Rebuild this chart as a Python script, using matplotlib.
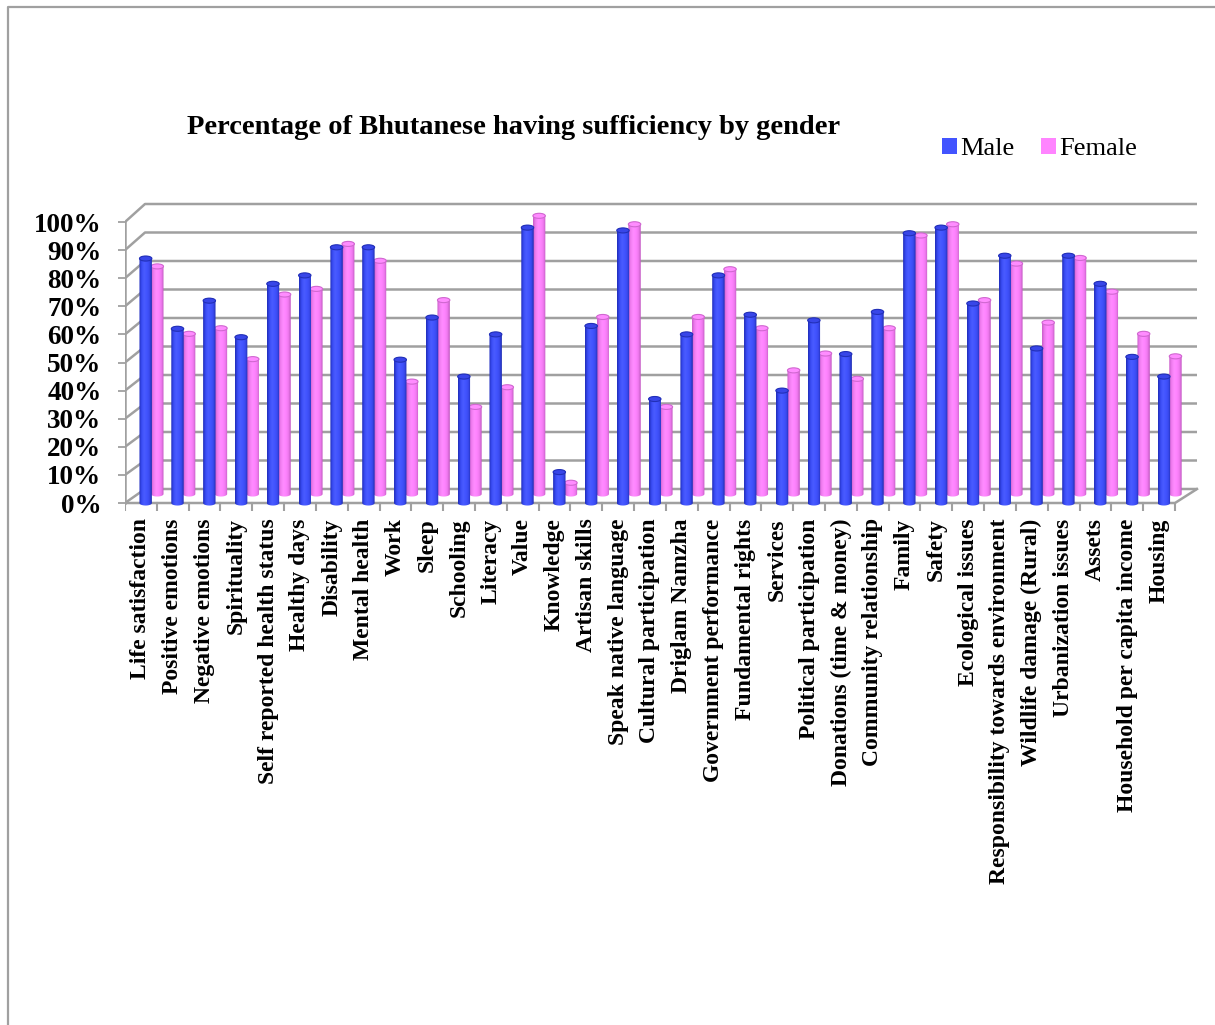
import numpy as np
import matplotlib
matplotlib.use("Agg")
import matplotlib.pyplot as plt
from matplotlib.colors import LinearSegmentedColormap
from matplotlib.patches import Polygon, Ellipse, Patch
from matplotlib.lines import Line2D

plt.rcParams['font.family'] = ['Liberation Serif', 'DejaVu Serif']

categories = ["Life satisfaction", "Positive emotions", "Negative emotions", "Spirituality",
              "Self reported health status", "Healthy days", "Disability", "Mental health",
              "Work", "Sleep", "Schooling", "Literacy", "Value", "Knowledge", "Artisan skills",
              "Speak native language", "Cultural participation", "Driglam Namzha",
              "Government performance", "Fundamental rights", "Services",
              "Political participation", "Donations (time & money)", "Community relationship",
              "Family", "Safety", "Ecological issues", "Responsibility towards environment",
              "Wildlife damage (Rural)", "Urbanization issues", "Assets",
              "Household per capita income", "Housing"]
male = [87, 62, 72, 59, 78, 81, 91, 91, 51, 66, 45, 60, 98, 11, 63, 97, 37, 60, 81, 67, 40,
        65, 53, 68, 96, 98, 71, 88, 55, 88, 78, 52, 45]
female = [81, 57, 59, 48, 71, 73, 89, 83, 40, 69, 31, 38, 99, 4, 63, 96, 31, 63, 80, 59, 44,
          50, 41, 59, 92, 96, 69, 82, 61, 84, 72, 57, 49]
yticks = list(range(0, 101, 10))

W, H = 1215, 1025
fig = plt.figure(figsize=(W / 100, H / 100), dpi=100)

# pixel layout of the front plane
X0, XS = 125, 1050 / 33
Y0, YS = 503, 2.81
XLIM = (0, 34)
YLIM = (-3, 110)
ax = fig.add_axes([X0 / W, (H - (Y0 - YLIM[0] * YS)) / H,
                   (XLIM[1] - XLIM[0]) * XS / W, (YLIM[1] - YLIM[0]) * YS / H])
for s in ax.spines.values():
    s.set_visible(False)

grid = '#A0A0A0'
n = len(categories)

# back wall / side wall / floor
dx = 20 / XS
def back_y(v):
    return 14 / YS + v * (285 / 281)

x_back_right = 33 + 22 / XS
for v in yticks:
    ax.plot([0, dx, x_back_right], [v, back_y(v), back_y(v)], color=grid, lw=1.8,
            zorder=1, solid_capstyle='butt')
ax.plot([0, 0], [0, 100], color=grid, lw=1.8, zorder=1)
ax.plot([0, n, x_back_right], [0, 0, back_y(0)], color=grid, lw=1.8, zorder=1)
for i in range(n + 1):
    ax.plot([i, i], [0, -7 / YS], color=grid, lw=1.5, zorder=1)

# cylinders
CAP = 1.8
BW = 0.39
blue_cmap = LinearSegmentedColormap.from_list(
    'bl', ['#1f2cb8', '#3a4cf5', '#4a5cff', '#4254ff', '#3a4af0', '#1f2cb0'])
pink_cmap = LinearSegmentedColormap.from_list(
    'pk', ['#c85ec8', '#f07cf0', '#ff8cff', '#ff84ff', '#f07af0', '#c058c0'])
grad = np.linspace(0, 1, 64).reshape(1, -1)

def cylinder(xc, base, height, cmap, cap_face, cap_edge, z):
    x0, x1 = xc - BW / 2, xc + BW / 2
    top = base + height
    t = np.linspace(0, np.pi, 40)
    bx = xc - (BW / 2) * np.cos(t)
    by = base - (CAP / 2) * np.sin(t)
    tx = xc + (BW / 2) * np.cos(t)
    ty = top + (CAP / 2) * np.sin(t)
    verts = np.column_stack([np.concatenate([bx, tx]), np.concatenate([by, ty])])
    outline = Polygon(verts, closed=True, transform=ax.transData)
    im = ax.imshow(grad, cmap=cmap, extent=[x0, x1, base - CAP / 2, top + CAP / 2],
                   aspect='auto', zorder=z, interpolation='bilinear')
    im.set_clip_path(outline)
    ax.add_patch(Ellipse((xc, top), BW, CAP, facecolor=cap_face, edgecolor=cap_edge,
                         lw=0.8, zorder=z + 0.1))

for i in range(n):
    cylinder(i + 1.015, 3.2, female[i], pink_cmap, '#ff8cff', '#d068d0', 2)
for i in range(n):
    cylinder(i + 0.65, 0, male[i], blue_cmap, '#3846e8', '#2230b8', 3)

ax.set_xlim(*XLIM)
ax.set_ylim(*YLIM)

ax.set_yticks(yticks)
ax.set_yticklabels([f"{v}%" for v in yticks], fontsize=19.5, fontweight='bold')
ax.tick_params(axis='y', length=5, width=1.3, color=grid, pad=12)
ax.set_xticks([i + 0.5 for i in range(n)])
ax.set_xticklabels(categories, rotation=90, fontsize=17, fontweight='bold')
ax.tick_params(axis='x', length=0, pad=5)

fig.text(514 / W, 1 - 128 / H, "Percentage of Bhutanese having sufficiency by gender",
         ha='center', va='center', fontsize=20.5, fontweight='bold')

handles = [Patch(facecolor='#4254ff', label='Male'), Patch(facecolor='#ff84ff', label='Female')]
fig.legend(handles=handles, loc='center left', bbox_to_anchor=(942 / W, 1 - 149 / H),
           ncol=2, frameon=False, fontsize=19, handlelength=0.55, handleheight=0.55,
           handletextpad=0.15, columnspacing=1.0, borderaxespad=0, borderpad=0)

# outer frame
fig.add_artist(Line2D([8 / W, 8 / W, 1], [0, 1 - 7 / H, 1 - 7 / H], color='#A0A0A0',
                      lw=1.6, transform=fig.transFigure))

fig.savefig("out.png", dpi=100)
